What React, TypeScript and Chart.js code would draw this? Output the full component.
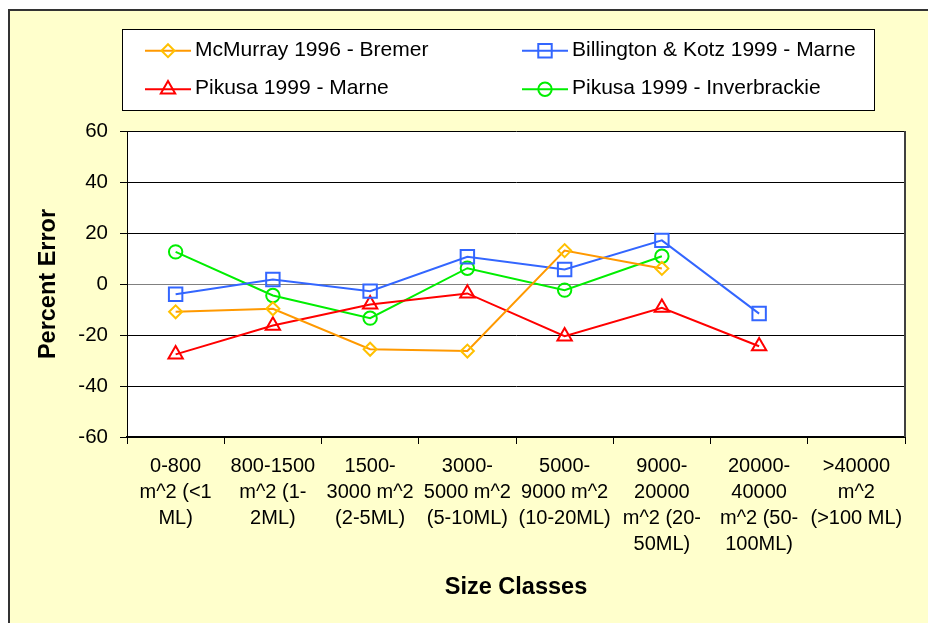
import React, { useEffect, useRef } from 'react';
import { Chart, registerables } from 'chart.js';

Chart.register(...registerables);

const categories: string[][] = [
  ['0-800', 'm^2 (<1', 'ML)'],
  ['800-1500', 'm^2 (1-', '2ML)'],
  ['1500-', '3000 m^2', '(2-5ML)'],
  ['3000-', '5000 m^2', '(5-10ML)'],
  ['5000-', '9000 m^2', '(10-20ML)'],
  ['9000-', '20000', 'm^2 (20-', '50ML)'],
  ['20000-', '40000', 'm^2 (50-', '100ML)'],
  ['>40000', 'm^2', '(>100 ML)'],
];

const seriesNames = [
  'McMurray 1996 - Bremer',
  'Billington & Kotz 1999 - Marne',
  'Pikusa 1999 - Marne',
  'Pikusa 1999 - Inverbrackie',
];

const mcMurrayBremer = [-10.9, -9.7, -25.6, -26.3, 13.1, 6.1, null, null];
const billingtonMarne = [-4.0, 1.8, -2.8, 10.7, 5.7, 17.1, -11.6, null];
const pikusaMarne = [-27.6, -16.3, -8.0, -3.7, -20.5, -9.3, -24.4, null];
const pikusaInverbrackie = [12.6, -4.5, -13.4, 6.2, -2.4, 10.9, null, null];

const yMin = -60;
const yMax = 60;
const yStep = 20;

const FONT = '"Liberation Sans", Arial, Helvetica, sans-serif';

function drawMarker(ctx: CanvasRenderingContext2D, style: string, x: number, y: number, r: number) {
  ctx.beginPath();
  if (style === 'rectRot') {
    ctx.moveTo(x, y - r);
    ctx.lineTo(x + r, y);
    ctx.lineTo(x, y + r);
    ctx.lineTo(x - r, y);
    ctx.closePath();
  } else if (style === 'rect') {
    const s = r * Math.SQRT1_2;
    ctx.rect(x - s, y - s, 2 * s, 2 * s);
  } else if (style === 'triangle') {
    ctx.moveTo(x, y - r);
    ctx.lineTo(x + r * Math.sqrt(3) / 2, y + r / 2);
    ctx.lineTo(x - r * Math.sqrt(3) / 2, y + r / 2);
    ctx.closePath();
  } else {
    ctx.arc(x, y, r, 0, Math.PI * 2);
  }
  ctx.stroke();
}

const legendPlugin = {
  id: 'boxLegend',
  afterDraw(chart: any) {
    const ctx: CanvasRenderingContext2D = chart.ctx;
    ctx.save();
    ctx.fillStyle = '#ffffff';
    ctx.fillRect(122.5, 29.5, 752, 81);
    ctx.strokeStyle = '#000000';
    ctx.lineWidth = 1;
    ctx.strokeRect(122.5, 29.5, 752, 81);
    const pos = [
      [145, 50.7],
      [522, 50.7],
      [145, 89.3],
      [522, 89.3],
    ];
    chart.data.datasets.forEach((ds: any, i: number) => {
      const [x, y] = pos[i];
      ctx.strokeStyle = ds.borderColor;
      ctx.lineWidth = 2;
      ctx.beginPath();
      ctx.moveTo(x, y);
      ctx.lineTo(x + 46, y);
      ctx.stroke();
      ctx.strokeStyle = ds.pointBorderColor;
      ctx.lineWidth = 2;
      drawMarker(ctx, ds.pointStyle, x + 23, y, ds.pointRadius);
      ctx.fillStyle = '#000000';
      ctx.font = `21px ${FONT}`;
      ctx.textBaseline = 'alphabetic';
      ctx.textAlign = 'left';
      ctx.fillText(ds.label, x + 50, y + 5);
    });
    ctx.restore();
  },
};

const plotAreaPlugin = {
  id: 'plotArea',
  beforeDraw(chart: any) {
    const { ctx, chartArea } = chart;
    ctx.save();
    ctx.fillStyle = '#ffffff';
    ctx.fillRect(chartArea.left, chartArea.top, chartArea.right - chartArea.left, chartArea.bottom - chartArea.top);
    ctx.restore();
  },
  afterDraw(chart: any) {
    const { ctx, chartArea } = chart;
    ctx.save();
    ctx.strokeStyle = '#404040';
    ctx.lineWidth = 2;
    ctx.beginPath();
    ctx.moveTo(chartArea.right, chartArea.top);
    ctx.lineTo(chartArea.right, chartArea.bottom);
    ctx.stroke();
    ctx.restore();
  },
};

export default function App() {
  const canvasRef = useRef<HTMLCanvasElement | null>(null);

  useEffect(() => {
    if (!canvasRef.current) return;
    const mk = (label: string, data: (number | null)[], line: string, marker: string, style: string, r: number) => ({
      label,
      data,
      borderColor: line,
      borderWidth: 2,
      pointStyle: style,
      pointRadius: r,
      pointHoverRadius: r,
      pointBorderColor: marker,
      pointBackgroundColor: 'rgba(0,0,0,0)',
      pointBorderWidth: 2,
      tension: 0,
      spanGaps: false,
      fill: false,
    });
    const chart = new Chart(canvasRef.current, {
      type: 'line',
      data: {
        labels: categories,
        datasets: [
          mk(seriesNames[0], mcMurrayBremer, '#FF9900', '#FFC000', 'rectRot', 6.5),
          mk(seriesNames[1], billingtonMarne, '#3366FF', '#3366FF', 'rect', 9.5),
          mk(seriesNames[2], pikusaMarne, '#FF0000', '#FF0000', 'triangle', 8.3),
          mk(seriesNames[3], pikusaInverbrackie, '#00EE00', '#00EE00', 'circle', 6.7),
        ],
      },
      options: {
        responsive: false,
        animation: false,
        events: [],
        layout: { padding: { left: 0, right: 23, top: 131, bottom: 0 } },
        plugins: {
          legend: { display: false },
          tooltip: { enabled: false },
          title: { display: false },
        },
        scales: {
          x: {
            type: 'category',
            offset: true,
            afterFit: (s: any) => {
              s.height = 186;
            },
            grid: {
              offset: true,
              drawOnChartArea: false,
              drawTicks: true,
              tickLength: 7,
              color: '#000000',
              lineWidth: 1,
            },
            border: { display: true, color: '#000000', width: 2 },
            ticks: {
              autoSkip: false,
              maxRotation: 0,
              minRotation: 0,
              color: '#000000',
              padding: 10,
              font: { family: FONT, size: 20, lineHeight: 1.29 },
            },
            title: {
              display: true,
              text: 'Size Classes',
              color: '#000000',
              font: { family: FONT, size: 23.5, weight: 'bold', lineHeight: 1.2 },
              padding: { top: 0, bottom: 21 },
            },
          },
          y: {
            min: yMin,
            max: yMax,
            afterFit: (s: any) => {
              s.width = 127;
            },
            grid: {
              drawTicks: true,
              tickLength: 7,
              color: (c: any) => (c.tick && c.tick.value === 0 ? '#808080' : '#000000'),
              tickColor: '#000000',
              lineWidth: 1,
            },
            border: { display: true, color: '#000000', width: 1 },
            ticks: {
              stepSize: yStep,
              color: '#000000',
              padding: 12,
              font: { family: FONT, size: 20.5 },
            },
            title: {
              display: true,
              text: 'Percent Error',
              color: '#000000',
              font: { family: FONT, size: 23.5, weight: 'bold', lineHeight: 1.2 },
              padding: { top: 34, bottom: 0 },
            },
          },
        },
      },
      plugins: [plotAreaPlugin, legendPlugin],
    } as any);
    return () => chart.destroy();
  }, []);

  return (
    <div style={{ position: 'fixed', left: 0, top: 0, width: 928, height: 623, background: '#ffffff', overflow: 'hidden' }}>
      <div
        style={{
          position: 'absolute',
          left: 8,
          top: 9,
          width: 920,
          height: 614,
          boxSizing: 'border-box',
          background: '#FFFFCC',
          borderLeft: '2px solid #333333',
          borderTop: '2px solid #333333',
        }}
      />
      <canvas ref={canvasRef} width={928} height={623} style={{ position: 'absolute', left: 0, top: 0, width: 928, height: 623 }} />
    </div>
  );
}
